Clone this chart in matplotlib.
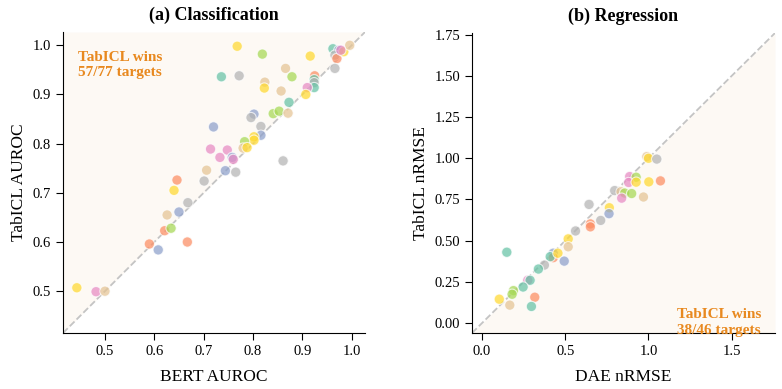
"""
Scatter comparison of TabICL against baselines, one panel per task type.
Saved to out.png.
"""
import matplotlib.pyplot as plt

plt.rcParams["font.family"] = ["Liberation Serif", "DejaVu Serif"]

# Set2 palette, groups index into it
PALETTE = ["#66c2a5", "#fc8d62", "#8da0cb", "#e78ac3",
           "#a6d854", "#ffd92f", "#e5c494", "#b3b3b3"]
WIN_COLOR = "#e8891f"

# (a) Classification: BERT AUROC vs TabICL AUROC
cls_bert = [0.768, 0.819, 0.916, 0.962, 0.974, 0.966, 0.970, 0.984, 0.996, 0.978, 0.966,
            0.736, 0.772, 0.866, 0.879, 0.824, 0.823, 0.857, 0.925, 0.924, 0.924, 0.924,
            0.910, 0.907, 0.873, 0.802, 0.796, 0.841, 0.853, 0.871, 0.720, 0.816, 0.816,
            0.802, 0.802, 0.783, 0.780, 0.788, 0.714, 0.748, 0.733, 0.758, 0.760, 0.861,
            0.706, 0.744, 0.765, 0.646, 0.701, 0.640, 0.668, 0.626, 0.650, 0.621, 0.634,
            0.590, 0.608, 0.667, 0.443, 0.482, 0.500]
cls_tabicl = [0.998, 0.982, 0.978, 0.993, 0.990, 0.980, 0.973, 0.987, 1.000, 0.990, 0.953,
              0.936, 0.938, 0.953, 0.936, 0.925, 0.913, 0.907, 0.938, 0.930, 0.924, 0.914,
              0.914, 0.900, 0.884, 0.860, 0.853, 0.861, 0.866, 0.862, 0.834, 0.835, 0.817,
              0.814, 0.807, 0.804, 0.791, 0.792, 0.789, 0.787, 0.772, 0.772, 0.768, 0.765,
              0.746, 0.745, 0.742, 0.726, 0.724, 0.705, 0.680, 0.655, 0.661, 0.623, 0.628,
              0.596, 0.584, 0.600, 0.507, 0.499, 0.500]
cls_group = [5, 4, 5, 0, 2, 7, 1, 5, 6, 3, 7,
             0, 7, 6, 4, 6, 5, 6, 1, 0, 7, 0,
             3, 5, 0, 2, 7, 4, 4, 6, 2, 7, 2,
             5, 5, 4, 6, 5, 3, 3, 3, 2, 3, 7,
             6, 2, 7, 1, 7, 5, 7, 6, 2, 1, 4,
             1, 2, 1, 5, 3, 6]

# (b) Regression: DAE nRMSE vs TabICL nRMSE
reg_dae = [0.887, 0.926, 0.881, 0.926, 1.002, 1.072, 0.797, 0.835, 0.857, 0.899, 0.839,
           0.970, 0.990, 1.000, 1.050, 0.643, 0.765, 0.763, 0.713, 0.651, 0.651, 0.562,
           0.518, 0.518, 0.428, 0.428, 0.410, 0.456, 0.494, 0.149, 0.375, 0.339, 0.275,
           0.289, 0.247, 0.189, 0.181, 0.104, 0.167, 0.317, 0.297]
reg_tabicl = [0.889, 0.885, 0.853, 0.855, 0.857, 0.863, 0.804, 0.797, 0.789, 0.786, 0.758,
              0.765, 1.010, 1.000, 0.995, 0.720, 0.700, 0.664, 0.623, 0.602, 0.584, 0.559,
              0.511, 0.463, 0.424, 0.397, 0.403, 0.424, 0.376, 0.430, 0.352, 0.328, 0.260,
              0.260, 0.219, 0.197, 0.175, 0.145, 0.109, 0.157, 0.101]
reg_group = [3, 4, 3, 5, 5, 1, 7, 6, 4, 4, 3,
             6, 6, 5, 7, 7, 5, 2, 7, 1, 1, 7,
             5, 6, 2, 1, 0, 5, 2, 0, 7, 0, 3,
             0, 0, 4, 4, 5, 6, 1, 0]


def panel(ax, xs, ys, groups, lims, shade_above, title, xlabel, ylabel, win_text):
    lo, hi = lims
    if shade_above:
        ax.fill_between([lo, hi], [lo, hi], hi, color="#fdf9f4", zorder=0, lw=0)
    else:
        ax.fill_between([lo, hi], lo, [lo, hi], color="#fdf9f4", zorder=0, lw=0)
    ax.plot([lo, hi], [lo, hi], ls="--", color="#c4c4c4", lw=1.3, zorder=1)
    ax.scatter(xs, ys, c=[PALETTE[g] for g in groups], s=55, alpha=0.72,
               edgecolors="white", linewidths=0.8, zorder=2)
    ax.set_xlim(lo, hi)
    ax.set_ylim(lo, hi)
    ax.spines["top"].set_visible(False)
    ax.spines["right"].set_visible(False)
    ax.tick_params(direction="out", length=5, labelsize=10.5)
    ax.set_title(title, fontsize=13, fontweight="bold", pad=9)
    ax.set_xlabel(xlabel, fontsize=12.5, labelpad=8)
    ax.set_ylabel(ylabel, fontsize=12.5)
    if shade_above:
        ax.text(0.05, 0.937, win_text, transform=ax.transAxes, ha="left", va="top",
                fontsize=11, fontweight="bold", color=WIN_COLOR, linespacing=1.25)
    else:
        ax.text(0.955, -0.012, win_text, transform=ax.transAxes, ha="right", va="bottom",
                fontsize=11, fontweight="bold", color=WIN_COLOR, linespacing=1.25,
                multialignment="center")


def main():
    fig = plt.figure(figsize=(7.82, 3.89), dpi=100)
    ax1 = fig.add_axes([63 / 782, 56 / 389, 302 / 782, 301 / 389])
    ax2 = fig.add_axes([472 / 782, 56 / 389, 303 / 782, 300 / 389])

    panel(ax1, cls_bert, cls_tabicl, cls_group, (0.415, 1.027), True,
          "(a) Classification", "BERT AUROC", "TabICL AUROC",
          "TabICL wins\n57/77 targets")
    ax1.set_xticks([0.5, 0.6, 0.7, 0.8, 0.9, 1.0])
    ax1.set_yticks([0.5, 0.6, 0.7, 0.8, 0.9, 1.0])

    panel(ax2, reg_dae, reg_tabicl, reg_group, (-0.06, 1.76), False,
          "(b) Regression", "DAE nRMSE", "TabICL nRMSE",
          "TabICL wins\n38/46 targets")
    ax2.set_xticks([0.0, 0.5, 1.0, 1.5])
    ax2.set_yticks([0.0, 0.25, 0.5, 0.75, 1.0, 1.25, 1.5, 1.75])
    ax2.yaxis.set_major_formatter(plt.FormatStrFormatter("%.2f"))

    fig.savefig("out.png", dpi=100)


if __name__ == "__main__":
    main()
